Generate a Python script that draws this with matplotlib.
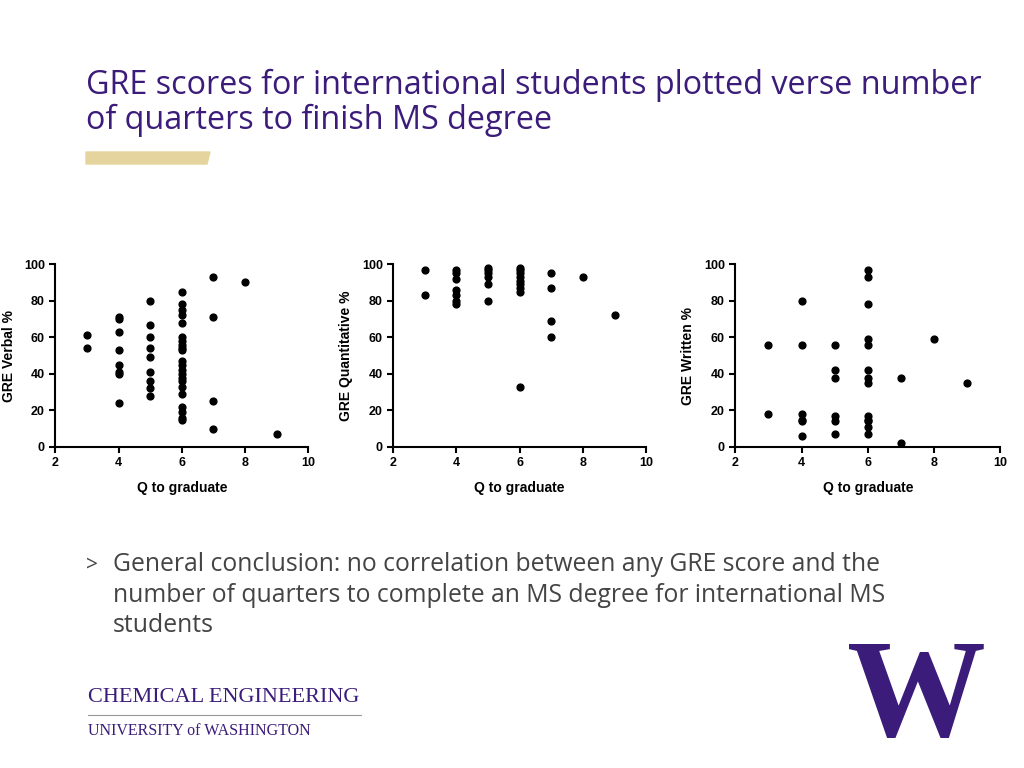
import matplotlib
matplotlib.use("Agg")
import matplotlib.pyplot as plt
from matplotlib.patches import Polygon

verbal_q = [3]*2 + [4]*8 + [5]*9 + [6]*22 + [7]*4 + [8] + [9]
verbal = [61, 54,
          71, 70, 63, 53, 45, 41, 40, 24,
          80, 67, 60, 54, 49, 41, 36, 32, 28,
          85, 78, 75, 72, 68, 60, 58, 56, 54, 53, 47, 45, 42, 40, 38, 36, 33, 29, 22, 19, 16, 15,
          93, 71, 25, 10, 90, 7]
quant_q = [3]*2 + [4]*7 + [5]*6 + [6]*9 + [7]*4 + [8] + [9]
quant = [97, 83,
         97, 95, 92, 86, 83, 80, 78,
         98, 97, 95, 93, 89, 80,
         98, 97, 95, 93, 91, 89, 87, 85, 33,
         95, 87, 69, 60, 93, 72]
writ_q = [3]*2 + [4]*6 + [5]*6 + [6]*13 + [7]*2 + [8] + [9]
written = [56, 18,
           80, 56, 18, 15, 14, 6,
           56, 42, 38, 17, 14, 7,
           97, 93, 78, 59, 56, 42, 38, 35, 17, 15, 14, 11, 7,
           38, 2, 59, 35]
ylabels = ["GRE Verbal %", "GRE Quantitative %", "GRE Written %"]

purple = "#3b1c7a"
fig = plt.figure(figsize=(10.24, 7.68), dpi=100)
fig.text(0.084, 1-103/768, "GRE scores for international students plotted verse number\nof quarters to finish MS degree",
         fontsize=23.3, color=purple, family="Open Sans", va="center", linespacing=1.05)
fig.patches.append(Polygon([[86/1024, 1-152/768], [210/1024, 1-152/768], [207/1024, 1-164/768], [86/1024, 1-164/768]],
                           closed=True, transform=fig.transFigure, color="#e6d49e"))

rects = [(0.054, 0.418, 0.247, 0.238), (0.384, 0.418, 0.247, 0.238), (0.718, 0.418, 0.259, 0.238)]
for r, xs, ys, lab in zip(rects, [verbal_q, quant_q, writ_q], [verbal, quant, written], ylabels):
    ax = fig.add_axes(r)
    ax.scatter(xs, ys, s=24, color="black", zorder=3, clip_on=False)
    ax.set_xlim(2, 10)
    ax.set_ylim(0, 100)
    ax.set_xticks([2, 4, 6, 8, 10])
    ax.set_yticks([0, 20, 40, 60, 80, 100])
    for s in ["top", "right"]:
        ax.spines[s].set_visible(False)
    for s in ["left", "bottom"]:
        ax.spines[s].set_linewidth(1.5)
    ax.tick_params(width=1.5, length=4, labelsize=9)
    for t in ax.get_xticklabels() + ax.get_yticklabels():
        t.set_fontweight("bold")
        t.set_family("Liberation Sans")
    ax.set_xlabel("Q to graduate", fontsize=10, fontweight="bold", family="Liberation Sans", labelpad=8)
    ax.set_ylabel(lab, fontsize=10, fontweight="bold", family="Liberation Sans", labelpad=6)

fig.text(0.084, 1-565/768, ">", fontsize=15, color="#444444", family="Open Sans", va="center")
fig.text(0.110, 1-595/768, "General conclusion: no correlation between any GRE score and the\nnumber of quarters to complete an MS degree for international MS\nstudents",
         fontsize=17.8, color="#444444", family="Open Sans", va="center", linespacing=1.3)

fig.text(0.086, 1-698/768, "CHEMICAL ENGINEERING", fontsize=16, color=purple, family="Liberation Serif", va="center")
fig.add_artist(plt.Line2D([0.086, 0.353], [1-715/768, 1-715/768], color="#999999", lw=0.8, transform=fig.transFigure))
fig.text(0.086, 1-731/768, "UNIVERSITY of WASHINGTON", fontsize=11.5, color=purple, family="Liberation Serif", va="center")
fig.text(0.895, 0.002, "W", fontsize=100, color=purple, family="Liberation Serif", fontweight="bold",
         ha="center", va="bottom")

fig.savefig("out.png", dpi=100)
